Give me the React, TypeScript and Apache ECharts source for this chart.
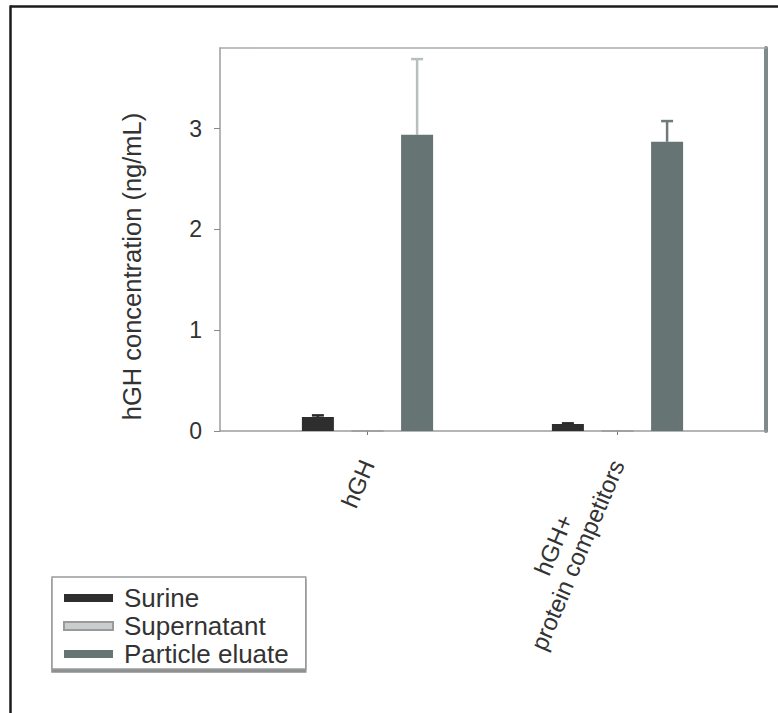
import React, { useEffect, useRef } from "react";
import * as echarts from "echarts";

const categories = ["hGH", "hGH+\nprotein competitors"];
const seriesNames = ["Surine", "Supernatant", "Particle eluate"];
const surine = [0.14, 0.07];
const supernatant = [0, 0];
const particle = [2.94, 2.87];
const surineErr = [0.015, 0.006];
const particleErr = [0.75, 0.205];
const yTickMax = 3.8;

const BAR_W = 32;
const BAR_GAP = 0.55;
const FONT = "'Liberation Sans', Arial, sans-serif";
const TXT = "#333333";

export default function App() {
  const ref = useRef<HTMLDivElement>(null);
  useEffect(() => {
    if (!ref.current) return;
    const chart = echarts.init(ref.current, null, { renderer: "svg" });

    const errData: any[] = [];
    surine.forEach((v, i) => errData.push({ value: [i, v, surineErr[i], -1], color: "#2a2a2a" }));
    const pErrColors = ["#b8bfbf", "#6f7a7a"];
    particle.forEach((v, i) => errData.push({ value: [i, v, particleErr[i], 1], color: pErrColors[i] }));

    const option: any = {
      animation: false,
      backgroundColor: "#ffffff",
      textStyle: { fontFamily: FONT },
      grid: [
        { left: 220, right: 12, top: 48, bottom: 282 },
        { left: 242.5, right: 35.5, top: 48, bottom: 282 },
      ],
      xAxis: [
        {
          gridIndex: 0, type: "value", min: 0, max: 1, position: "bottom",
          axisLine: { show: true, onZero: false, lineStyle: { color: "#9a9e9e", width: 1.5 } },
          axisTick: { show: false }, axisLabel: { show: false }, splitLine: { show: false },
        },
        {
          gridIndex: 0, type: "value", min: 0, max: 1, position: "top",
          axisLine: { show: true, onZero: false, lineStyle: { color: "#a8acac", width: 1.5 } },
          axisTick: { show: false }, axisLabel: { show: false }, splitLine: { show: false },
        },
        {
          gridIndex: 1, type: "category", data: categories, boundaryGap: true,
          axisLine: { show: false, onZero: false },
          axisTick: { show: true, alignWithLabel: true, length: 4, lineStyle: { color: "#777" } },
          axisLabel: {
            rotate: 67, margin: 30, fontSize: 24, color: TXT, fontFamily: FONT,
            formatter: (v: string) => {
              const lines = v.split("\n");
              const body = lines.map((s) => "{c|" + s + "}").join("\n");
              return lines.length > 1 ? body + "\n{c| }" : body;
            },
            rich: { c: { align: "center", fontSize: 24, color: TXT, fontFamily: FONT, lineHeight: 26 } },
          },
        },
      ],
      yAxis: [
        {
          gridIndex: 0, type: "value", min: 0, max: yTickMax, interval: 1,
          axisLine: { show: true, onZero: false, lineStyle: { color: "#9a9e9e", width: 1.5 } },
          axisTick: { show: true, length: 6, lineStyle: { color: "#888" } },
          axisLabel: { fontSize: 23, color: TXT, margin: 18, showMaxLabel: false, fontFamily: FONT },
          splitLine: { show: false },
          name: "hGH concentration (ng/mL)", nameLocation: "middle", nameRotate: 90, nameGap: 75,
          nameTextStyle: { fontSize: 25.5, color: TXT, fontFamily: FONT, padding: [0, 54, 0, 0] },
        },
        {
          gridIndex: 0, type: "value", min: 0, max: yTickMax, position: "right",
          axisLine: { show: true, onZero: false, lineStyle: { color: "#7f8a8a", width: 4 } },
          axisTick: { show: false }, axisLabel: { show: false }, splitLine: { show: false },
        },
        {
          gridIndex: 1, type: "value", min: 0, max: yTickMax, show: false,
        },
      ],
      legend: {
        orient: "vertical", left: 52, top: 577,
        data: seriesNames,
        icon: "rect", itemWidth: 49, itemHeight: 8, itemGap: 2,
        backgroundColor: "#ffffff", borderColor: "#9a9a9a", borderWidth: 1.5,
        shadowColor: "#8d9191", shadowOffsetY: 3, shadowOffsetX: 0, shadowBlur: 0,
        padding: [8, 17, 2, 11],
        textStyle: { fontSize: 26, color: TXT, fontFamily: FONT, lineHeight: 24, padding: [0, 0, 0, 6] },
      },
      series: [
        {
          name: "Surine", type: "bar", xAxisIndex: 2, yAxisIndex: 2, data: surine,
          barWidth: BAR_W, barGap: BAR_GAP * 100 + "%",
          itemStyle: { color: "#2e2e2e" },
        },
        {
          name: "Supernatant", type: "bar", xAxisIndex: 2, yAxisIndex: 2, data: supernatant,
          barWidth: BAR_W, barGap: BAR_GAP * 100 + "%",
          itemStyle: { color: "#c9cdcd", borderColor: "#9a9a9a", borderWidth: 1 },
        },
        {
          name: "Particle eluate", type: "bar", xAxisIndex: 2, yAxisIndex: 2, data: particle,
          barWidth: BAR_W, barGap: BAR_GAP * 100 + "%",
          itemStyle: { color: "#667474" },
        },
        {
          type: "custom", xAxisIndex: 2, yAxisIndex: 2, data: errData, z: 1,
          renderItem: (params: any, api: any) => {
            const i = api.value(0), v = api.value(1), e = api.value(2), slot = api.value(3);
            const off = slot * BAR_W * (1 + BAR_GAP);
            const top = api.coord([i, v + e]);
            const base = api.coord([i, v]);
            const x = top[0] + off;
            const color = errData[params.dataIndex].color;
            const cap = 6;
            return {
              type: "group",
              children: [
                { type: "line", shape: { x1: x, y1: base[1], x2: x, y2: top[1] }, style: { stroke: color, lineWidth: 2.5 } },
                { type: "line", shape: { x1: x - cap, y1: top[1], x2: x + cap, y2: top[1] }, style: { stroke: color, lineWidth: 2.5 } },
              ],
            };
          },
        },
      ],
      graphic: [
        { type: "line", shape: { x1: 10, y1: 6.5, x2: 778, y2: 6.5 }, style: { stroke: "#1c1a1a", lineWidth: 2.5 } },
        { type: "line", shape: { x1: 10.5, y1: 5.5, x2: 10.5, y2: 713 }, style: { stroke: "#1c1a1a", lineWidth: 2.5 } },
      ],
    };
    chart.setOption(option);
    return () => chart.dispose();
  }, []);
  return (
    <div
      ref={ref}
      style={{ position: "absolute", left: 0, top: 0, width: 778, height: 713, background: "#fff" }}
    />
  );
}
